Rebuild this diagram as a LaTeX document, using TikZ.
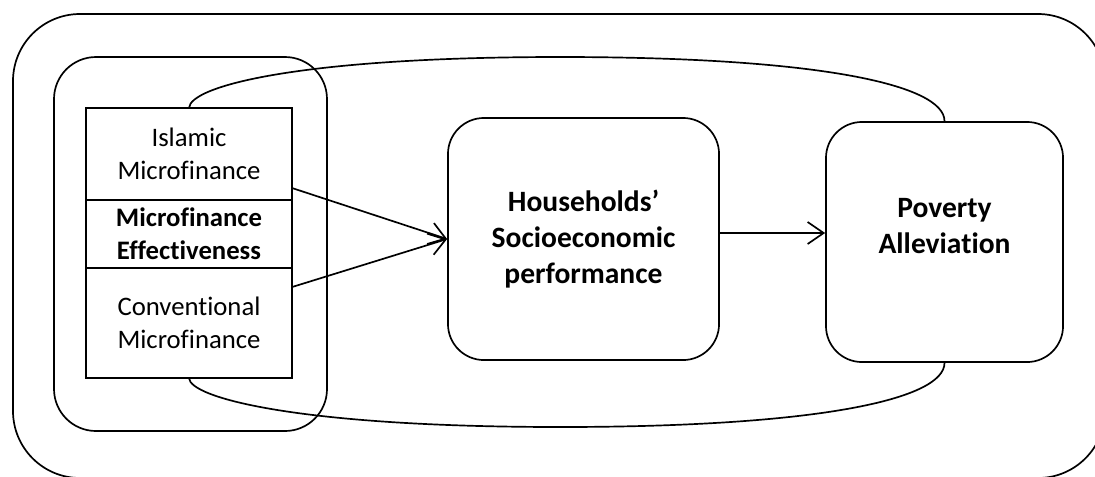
\documentclass[tikz,border=0pt]{standalone}
\usepackage{fontspec}
\setmainfont{Carlito}[Ligatures=NoCommon]
\usetikzlibrary{arrows.meta,positioning}

\tikzset{
  part/.style = {draw, line width=1.2pt, fill=white, minimum width=5.15cm, outer sep=0pt, align=center, inner sep=0pt, font=\fontsize{19}{23.4}\selectfont},
  stage/.style = {draw, line width=1.2pt, fill=white, rounded corners=0.9cm, align=center, inner sep=0pt, font=\fontsize{21}{25.8}\selectfont\bfseries},
  link/.style = {line width=1.2pt, -{Straight Barb[length=4mm,width=5.5mm,line width=1.2pt]}}
}

\begin{document}
\begin{tikzpicture}[x=0.025cm, y=-0.025cm]
                    \useasboundingbox (0,0) rectangle (1095,476);

                    % frames
                    \draw[line width=1.2pt, rounded corners=1.675cm] (13,14) rectangle (1105,478);
                    \draw[line width=1.2pt, rounded corners=1.05cm] (54,57) rectangle (327,431);

                    \node[part, minimum height=2.3cm] (isl) at (189,154) {Islamic\\Microfinance};
                    \node[part, minimum height=1.7cm, below=0pt of isl, font=\fontsize{19}{23.4}\selectfont\bfseries] (eff) {Microfinance\\Effectiveness};
                    \node[part, minimum height=2.75cm, below=0pt of eff] (conv) {Conventional\\Microfinance};

                    \node[stage, minimum width=6.775cm, minimum height=6.05cm] (hh) at (583.5,239) {Households'\\Socioeconomic\\performance};
                    \node[stage, minimum width=5.925cm, minimum height=6cm,
                          label={[yshift=0.4cm, align=center, font=\fontsize{21}{25.8}\selectfont\bfseries]center:Poverty\\Alleviation}] (pov) at (944.5,242) {};

                    % the loop round the model
                    \draw[line width=1.2pt] (isl.north) .. controls (190,86) and (300,57) .. (560,57)
                                            .. controls (820,57) and (944.5,85) .. (pov.north);
                    \draw[line width=1.2pt] (conv.south) .. controls (190,398) and (300,427) .. (560,427)
                                            .. controls (820,427) and (944.5,399) .. (pov.south);

                    \draw[link] ([yshift=0.3cm]isl.south east) -- (hh.west);
                    \draw[link] ([yshift=-0.475cm]conv.north east) -- (hh.west);
                    \draw[link] ([yshift=0.15cm]hh.east) -- ([yshift=0.15cm]hh.east -| pov.west);

                \end{tikzpicture}
\end{document}
